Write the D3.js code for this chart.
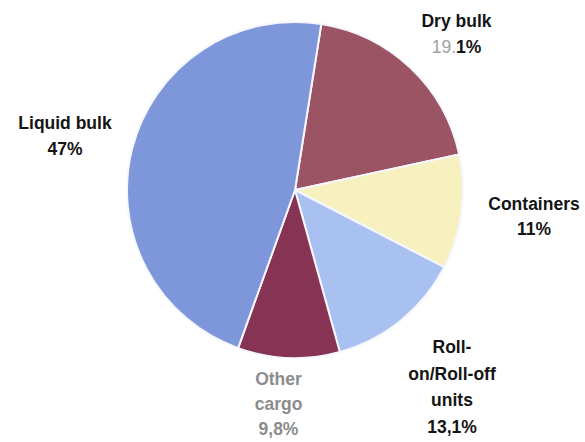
<!DOCTYPE html>
<html>
<head>
<meta charset="utf-8">
<script src="https://cdn.jsdelivr.net/npm/d3@7"></script>
<style>
  html, body { margin: 0; padding: 0; background: #ffffff; }
  svg { display: block; }
  text { font-family: "Liberation Sans", Arial, Helvetica, sans-serif; font-weight: bold; }
</style>
</head>
<body>
<svg id="chart" width="585" height="442"></svg>
<script>
// Cargo categories, clockwise from the top of the pie
const categories = ["Dry bulk", "Containers", "Roll-on/Roll-off units", "Other cargo", "Liquid bulk"];
// Share of total cargo, in percent
const values = [19.1, 11, 13.1, 9.8, 47];
// Label lines for each slice (name lines, then the value line)
const nameLines = [["Dry bulk"], ["Containers"], ["Roll-", "on/Roll-off", "units"], ["Other", "cargo"], ["Liquid bulk"]];
const valueLabels = ["19.1%", "11%", "13,1%", "9,8%", "47%"];
const colors = ["#9a5464", "#f7f1bf", "#a8c1f0", "#873353", "#7e97da"];

// Label block placement: centre x, first baseline y, line spacing
const labelPos = [[456.5, 27, 26], [534, 210, 25], [452, 353, 26.5], [278.5, 385, 25], [65, 129, 26]];

const svg = d3.select("#chart");
const cx = 295, cy = 190, radius = 168;
const start = 9 * Math.PI / 180;

const pie = d3.pie().sort(null).value(d => d).startAngle(start).endAngle(start + 2 * Math.PI);
const arc = d3.arc().innerRadius(0).outerRadius(radius);
const arcs = pie(values);

const g = svg.append("g").attr("transform", `translate(${cx},${cy})`);
g.selectAll("path.slice")
  .data(arcs)
  .join("path")
  .attr("class", "slice")
  .attr("d", arc)
  .attr("fill", (d, i) => colors[i])
  .attr("stroke", "#f6f6ff")
  .attr("stroke-width", 2)
  .attr("stroke-linejoin", "round");

// Slice labels
categories.forEach((c, i) => {
  const [x, y, lh] = labelPos[i];
  const t = svg.append("text")
    .attr("text-anchor", "middle")
    .attr("font-size", 17.5)
    .attr("fill", i === 3 ? "#8c8c8c" : "#141414");
  nameLines[i].forEach((line, k) => {
    t.append("tspan").attr("x", x).attr("y", y + k * lh).text(line);
  });
  const vy = y + nameLines[i].length * lh;
  const v = t.append("tspan").attr("x", x).attr("y", vy);
  if (i === 0) {
    // integer part drawn in a lighter grey
    const parts = valueLabels[i].split(".");
    v.append("tspan").attr("fill", "#a0a0a0").attr("font-weight", "normal").text(parts[0] + ".");
    v.append("tspan").text(parts[1]);
  } else {
    v.text(valueLabels[i]);
  }
});
</script>
</body>
</html>
